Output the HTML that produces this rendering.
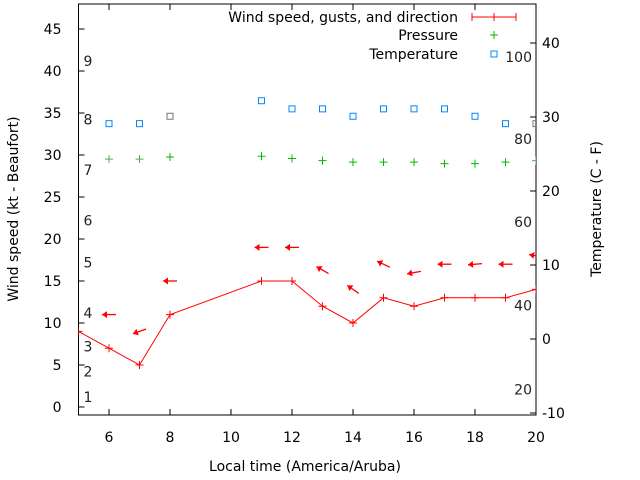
<!DOCTYPE html>
<html><head><meta charset="utf-8"><style>
body{margin:0;background:#fff}
svg{display:block;font-family:"DejaVu Sans","Liberation Sans",sans-serif;font-size:14px}
</style></head><body>
<svg id="chart" width="640" height="480" viewBox="0 0 640 480"></svg>
<script>
const hours=[6,7,8,11,12,13,14,15,16,17,18,19,20];
const lineHours=[5,6,7,8,11,12,13,14,15,16,17,18,19,20];
const windSpeed=[9,7,5,11,15,15,12,10,13,12,13,13,13,14];
const gustSpeed=[11,9,15,19,19,16.3,14,17,16,17,17,17,18];
const windAngle=[180,200,180,180,180,150,145,155,190,180,185,180,170];
const pressure=[24.3,24.3,24.6,24.7,24.4,24.1,23.9,23.9,23.9,23.7,23.7,23.9,24.1];
const temperature=[29.1,29.1,30.1,32.2,31.1,31.1,30.1,31.1,31.1,31.1,30.1,29.1,29.1];
const xTicks=[6,8,10,12,14,16,18,20];
const yTicks=[0,5,10,15,20,25,30,35,40,45];
const y2Ticks=[-10,0,10,20,30,40];
const beaufortLabels=["1","2","3","4","5","6","7","8","9"];
const beaufortAt=[1.2,4.2,7.2,11.2,17.2,22.2,28.2,34.2,41.2];
const humidLabels=["20","40","60","80","100"];
const humidAt=[-6.8,4.5,15.8,27,38.1];

const L=78.5,R=536,T=4,B=415;
const X=h=>L+(h-5)*30.5;
const Y=v=>407-v*8.4;
const Y2=v=>413-(v+10)*7.4;
const svg=document.getElementById('chart');
const NS='http://www.w3.org/2000/svg';
function mk(tag,a,parent){const e=document.createElementNS(NS,tag);for(const k in a)e.setAttribute(k,a[k]);(parent||svg).appendChild(e);return e;}
function txt(x,y,s,anchor,extra){const t=mk('text',Object.assign({x:x,y:y,'text-anchor':anchor||'middle',fill:'#000'},extra||{}));t.textContent=s;return t;}

const fr=mk('rect',{x:L,y:T,width:R-L,height:B-T,fill:'none',stroke:'#000','stroke-width':1});


xTicks.forEach(v=>{const x=X(v);
 mk('line',{x1:x,y1:B,x2:x,y2:B-6,stroke:'#000'});mk('line',{x1:x,y1:T,x2:x,y2:T+6,stroke:'#000'});
 const t=txt(x,B+27,v);});
yTicks.forEach(v=>{const y=Y(v);
 mk('line',{x1:L,y1:y,x2:L+6,y2:y,stroke:'#000'});
 const t=txt(L-17,y+5,v,'end');});
y2Ticks.forEach(v=>{const y=Y2(v);
 mk('line',{x1:R,y1:y,x2:R-6,y2:y,stroke:'#000'});
 const t=txt(R+6,y+5,v,'start');});
beaufortLabels.forEach((s,i)=>{const t=txt(88,Y(beaufortAt[i])+5,s,'middle',{fill:'#222'});
 });
humidLabels.forEach((s,i)=>{const t=txt(532,Y2(humidAt[i])+5,s,'end',{fill:'#222'});
 });

let t=txt(305,471,'Local time (America/Aruba)');
t=txt(0,0,'Wind speed (kt - Beaufort)','middle',{transform:'translate(18,209) rotate(-90)'});
t=txt(0,0,'Temperature (C - F)','middle',{transform:'translate(601,209) rotate(-90)'});

const defs=mk('defs',{});const cp=mk('clipPath',{id:'c'},defs);mk('rect',{x:L,y:T,width:R-L,height:B-T},cp);
const g=mk('g',{'clip-path':'url(#c)'});

const pl=mk('polyline',{points:lineHours.map((h,i)=>X(h)+','+Y(windSpeed[i])).join(' '),fill:'none',stroke:'#f00','stroke-width':1},g);

lineHours.forEach((h,i)=>{const x=X(h),y=Y(windSpeed[i]);
 const m=mk('path',{d:`M${x-4} ${y}H${x+4}M${x} ${y-4}V${y+4}`,stroke:'#f00'},g);
 });

hours.forEach((h,i)=>{const cx=X(h),cy=Y(gustSpeed[i]);const a=windAngle[i]*Math.PI/180;
 const dx=Math.cos(a)*7,dy=-Math.sin(a)*7;
 const hx=cx+dx,hy=cy+dy,tx=cx-dx,ty=cy-dy;
 const ux=Math.cos(a),uy=-Math.sin(a),px=-uy,py=ux;
 const ag=mk('g',{},g);
 mk('line',{x1:tx,y1:ty,x2:hx,y2:hy,stroke:'#f00','stroke-width':1.3},ag);
 mk('polygon',{points:`${hx},${hy} ${hx-ux*5+px*3.5},${hy-uy*5+py*3.5} ${hx-ux*5-px*3.5},${hy-uy*5-py*3.5}`,fill:'#f00'},ag);});

hours.forEach((h,i)=>{const x=X(h),y=Y2(pressure[i]);
 const m=mk('path',{d:`M${x-4} ${y}H${x+4}M${x} ${y-4}V${y+4}`,stroke:(i<2||i==12)?'#5a5':'#0b0'},g);
 });
hours.forEach((h,i)=>{const x=X(h),y=Y2(temperature[i]);
 const m=mk('rect',{x:x-3,y:y-3,width:6,height:6,fill:'none',stroke:(i==2||i==12)?'#777':'#08f'},g);
 });

const lg=mk('g',{});
[['Wind speed, gusts, and direction',17],['Pressure',35],['Temperature',54]].forEach((e,i)=>{
 const tt=mk('text',{x:458,y:e[1]+5,'text-anchor':'end',fill:'#000'},lg);tt.textContent=e[0];
 });
mk('path',{d:'M472 17H516M472 13V21M494 13V21M516 13V21',stroke:'#f00'},lg);
mk('path',{d:'M490 35H498M494 31V39',stroke:'#0b0'},lg);
mk('rect',{x:491,y:51,width:6,height:6,fill:'none',stroke:'#08f'},lg);
</script>
</body></html>
